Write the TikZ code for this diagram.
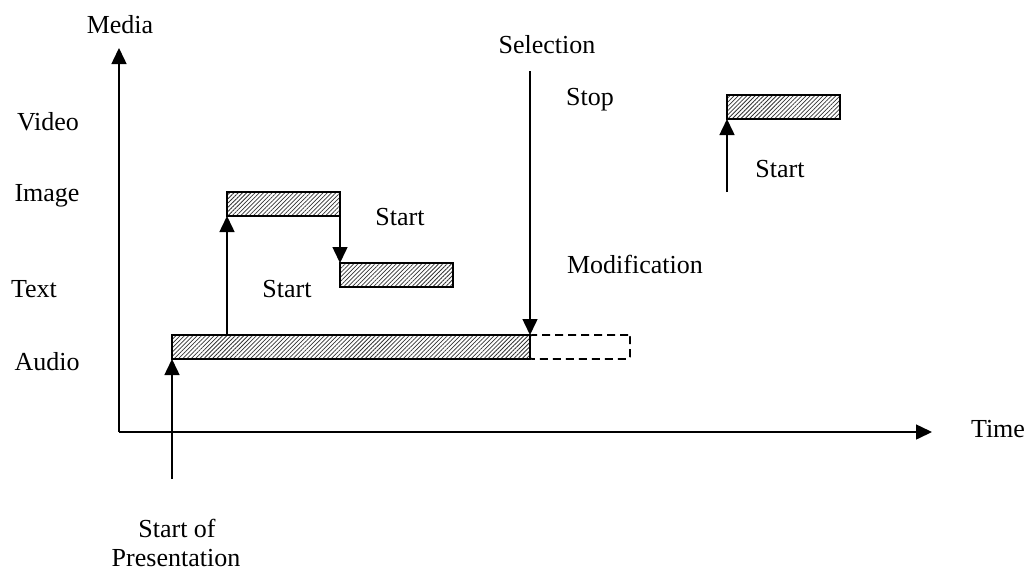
\documentclass[tikz,border=0pt]{standalone}
\usepackage{fontspec}
\setmainfont{Liberation Serif}
\usetikzlibrary{arrows.meta,patterns.meta}
\begin{document}
\begin{tikzpicture}[x=1pt,y=-1pt,
 lbl/.style={anchor=base,inner sep=0pt,font=\fontsize{26}{30}\selectfont},
 bar/.style={draw,line width=1.5pt,inner sep=0pt,outer sep=0pt,anchor=north west,minimum height=24pt,
   pattern={Lines[angle=45,distance=3pt,line width=0.75pt]},pattern color=black!80},
 ghost/.style={draw,dash pattern=on 8pt off 5pt,line width=1.6pt,rounded corners=2pt,inner sep=0pt,outer sep=0pt,anchor=north west,minimum height=24pt},
 arr/.style={line width=1.5pt,-{Triangle[length=16pt,width=15pt]}},
 ]
\useasboundingbox (0,0) rectangle (1027,571);
% axes
\coordinate (o) at (119,432);
\coordinate (ytip) at (119,48);
\coordinate (xtip) at (932,432);
\draw[arr] (o) -- (ytip);
\draw[arr] (o) -- (xtip);
% bars
\node[ghost,minimum width=100pt] (ext) at (530,335) {};
\node[bar,minimum width=358pt] (audio) at (172,335) {};
\node[bar,minimum width=113pt] (image) at (227,192) {};
\node[bar,minimum width=113pt] (text) at (340,263) {};
\node[bar,minimum width=113pt] (video) at (727,95) {};
% arrows
\coordinate (sp) at (172,479);
\draw[arr] (sp) -- (audio.south west);
\draw[arr] (audio.north west -| image.south west) -- (image.south west);
\draw[arr] (image.south east) -- (text.north west);
\coordinate (sel) at (530,71);
\draw[arr] (sel) -- (audio.north east);
\coordinate (vs) at (727,192);
\draw[arr] (vs) -- (video.south west);
% labels
\node[lbl] (lmedia) at (120,33) {Media};
\node[lbl] (lsel) at (547,53) {Selection};
\node[lbl] (lstop) at (590,105) {Stop};
\node[lbl] (lvideo) at (48,130) {Video};
\node[lbl] (limage) at (47,201) {Image};
\node[lbl] (ltext) at (34,297) {Text};
\node[lbl] (laudio) at (47,370) {Audio};
\node[lbl] (lstart1) at (400,225) {Start};
\node[lbl] (lstart2) at (287,297) {Start};
\node[lbl] (lmod) at (635,273) {Modification};
\node[lbl] (lstart3) at (780,177) {Start};
\node[lbl] (ltime) at (998,437) {Time};
\node[lbl] (lsp1) at (177,537) {Start of};
\node[lbl] (lsp2) at (176,566) {Presentation};
\end{tikzpicture}
\end{document}
